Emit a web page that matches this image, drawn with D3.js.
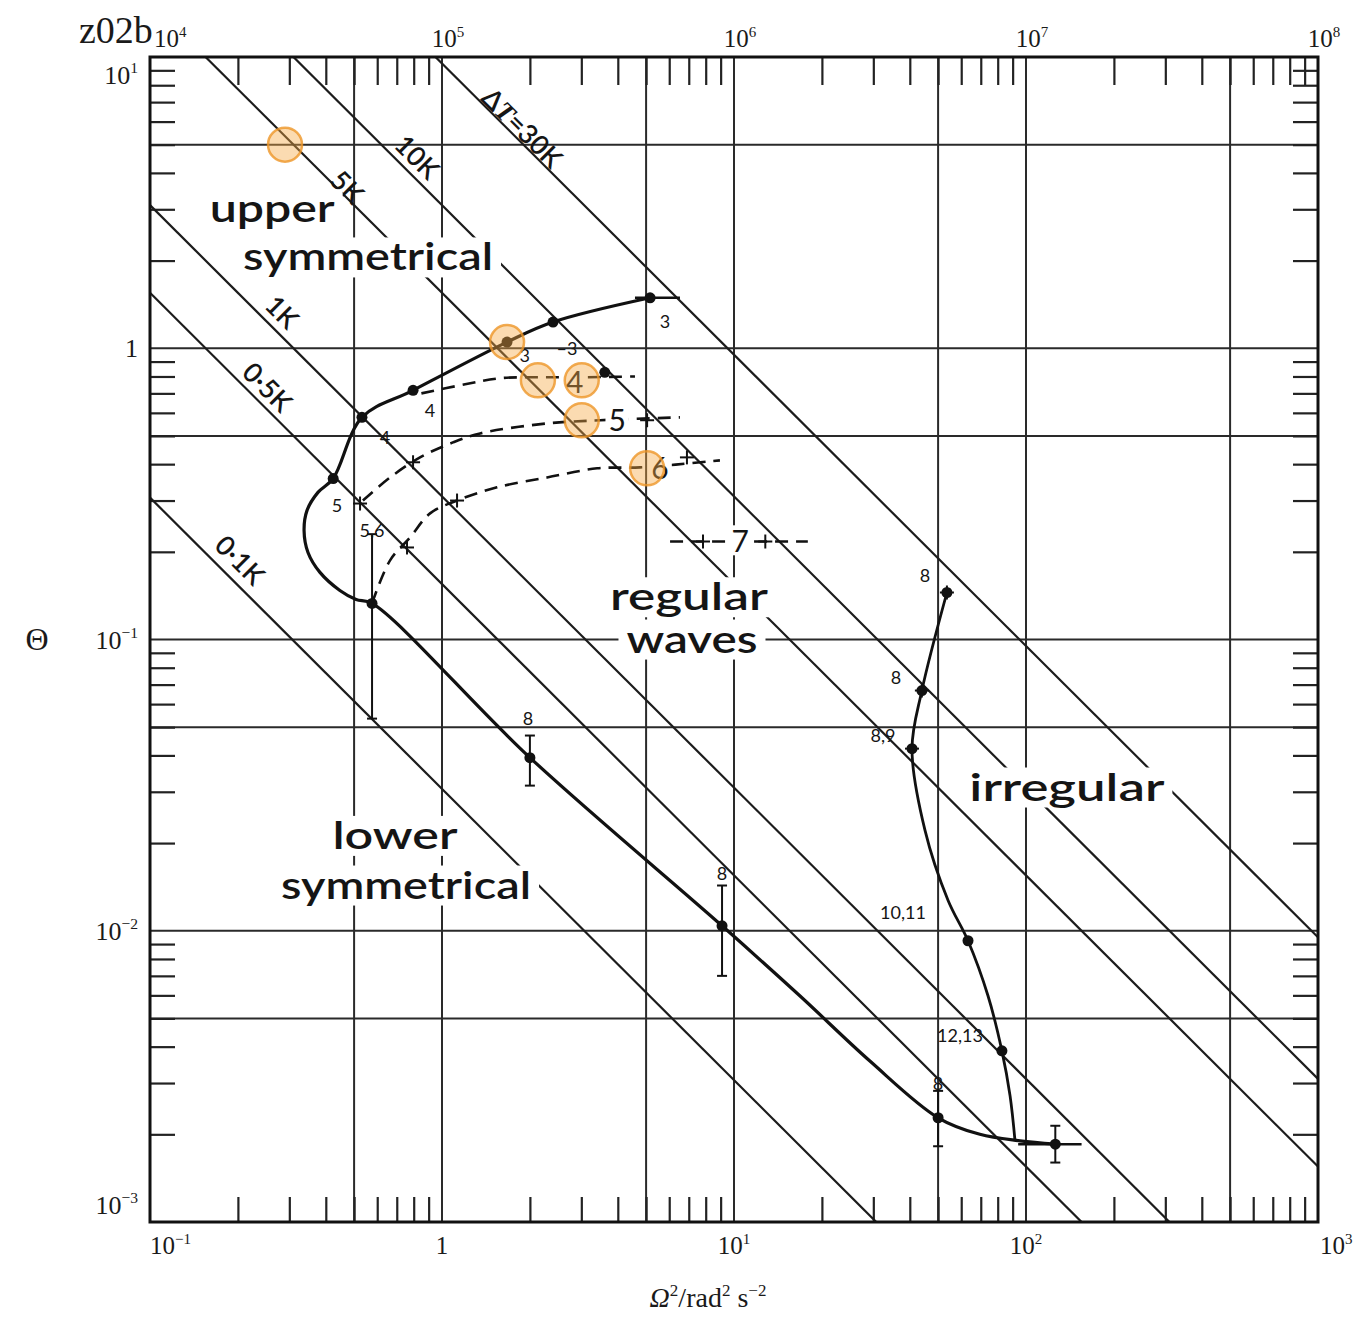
<!DOCTYPE html>
<html>
<head>
<meta charset="utf-8">
<script src="https://cdn.jsdelivr.net/npm/d3@7"></script>
<style>
  body { margin: 0; background: #fff; }
  svg { display: block; }
  .grid line { stroke: #2a2a2a; stroke-width: 2; }
  .minor line { stroke: #222; stroke-width: 2.2; }
  .minor path { display: none; }
  .serif { font-family: "Liberation Serif", "DejaVu Serif", serif; fill: #1a1a1a; }
  .sans { font-family: Lato, "Open Sans", sans-serif; fill: #151515; }
</style>
</head>
<body>
<script>
// ΔT = const lines, Θ·Ω² fixed; value is Θ where Ω² = 1
const deltaTNames = ["0·1K", "0·5K", "1K", "5K", "10K", "ΔT=30K"];
const thetaAtUnit = [0.0307, 0.155, 0.31, 1.55, 3.1, 9.5];
const deltaTLabelPos = [[0.203, 0.187], [0.252, 0.734], [0.283, 1.33], [0.473, 3.57], [0.821, 4.53], [1.88, 5.7]];

const gridTheta = [10, 5, 1, 0.5, 0.1, 0.05, 0.01, 0.005, 0.001];
const gridOmega = [0.1, 0.5, 1, 5, 10, 50, 100, 500, 1000];

const bottomTicks = [0.1, 1, 10, 100, 1000];
const bottomLabels = [["10", "−1"], ["1", ""], ["10", "1"], ["10", "2"], ["10", "3"]];
const topTicks = [1e4, 1e5, 1e6, 1e7, 1e8];
const topLabels = [["10", "4"], ["10", "5"], ["10", "6"], ["10", "7"], ["10", "8"]];
const leftTicks = [10, 1, 0.1, 0.01, 0.001];
const leftLabels = [["10", "1"], ["1", ""], ["10", "−1"], ["10", "−2"], ["10", "−3"]];

// boundary curves [Ω², Θ]
const upperLower = [[5.16, 1.49], [2.40, 1.23], [1.67, 1.05], [0.796, 0.717], [0.532, 0.579],
  [0.424, 0.357], [0.376, 0.320], [0.345, 0.2776], [0.337, 0.2368], [0.3476, 0.199], [0.382, 0.170],
  [0.447, 0.1474], [0.508, 0.1372], [0.576, 0.133], [2.0, 0.0393], [9.1, 0.0104], [16.8, 0.00598],
  [29.2, 0.00357], [50, 0.00228], [69.5, 0.0020], [95.4, 0.0019], [126, 0.00185]];
const irregularEdge = [[53.6, 0.145], [44.0, 0.0668], [40.7, 0.0422], [45.1, 0.0221], [54.1, 0.0127],
  [63.3, 0.00924], [74.1, 0.00598], [82.7, 0.00387], [88.2, 0.00271], [91.7, 0.0019]];
const dash34 = [[0.85, 0.70], [1.2, 0.752], [1.58, 0.789], [2.17, 0.795], [2.97, 0.795], [4.58, 0.80]];
const dash45 = [[0.536, 0.30], [0.664, 0.36], [0.841, 0.422], [1.09, 0.475], [1.35, 0.51],
  [2.29, 0.552], [3.48, 0.566], [6.53, 0.579]];
const dash56 = [[0.576, 0.133], [0.664, 0.187], [0.777, 0.224], [0.91, 0.271], [1.126, 0.30],
  [1.543, 0.333], [2.29, 0.36], [3.40, 0.387], [4.77, 0.39], [8.95, 0.412]];
const wave7 = [[6.04, 0.217], [17.9, 0.217]];

const dots = [[5.16, 1.49], [2.40, 1.23], [1.67, 1.05], [0.796, 0.717], [0.532, 0.579], [0.424, 0.357],
  [0.576, 0.133], [2.0, 0.0393], [9.1, 0.0104], [50, 0.00228], [126, 0.00185], [53.6, 0.145],
  [44.0, 0.0668], [40.7, 0.0422], [63.3, 0.00924], [82.7, 0.00387], [3.61, 0.827]];
const vErrors = [[2.0, 0.0315, 0.0468], [9.1, 0.0070, 0.0143], [50, 0.00182, 0.00282],
  [126, 0.0016, 0.00214], [0.576, 0.0535, 0.23]];
const hErrors = [[1.49, 4.58, 6.53], [0.00185, 94, 155]];
const crosses = [[0.524, 0.293], [0.796, 0.406], [1.126, 0.30], [0.759, 0.207], [5.04, 0.566],
  [6.9, 0.422], [7.83, 0.217], [12.8, 0.217], [53.6, 0.145], [44.0, 0.0668], [40.7, 0.0422]];
const highlights = [[0.29, 5.0], [1.67, 1.05], [2.13, 0.776], [3.01, 0.776], [3.01, 0.566], [5.04, 0.387]];

const pointLabels = [[5.8, 1.23, "3"], [2.68, 1.0, "–3"], [1.92, 0.946, "3"], [0.91, 0.612, "4"],
  [0.638, 0.494, "4"], [0.437, 0.289, "5"], [0.576, 0.237, "5,6"], [1.97, 0.0535, "8"],
  [9.1, 0.0157, "8"], [45.1, 0.166, "8"], [35.9, 0.074, "8"], [32.4, 0.0468, "8,9"],
  [37.9, 0.01153, "10,11"], [59.4, 0.00436, "12,13"], [50, 0.00298, "8"]];
const waveNumbers = [[2.85, 0.764, "4"], [3.98, 0.566, "5"], [5.58, 0.387, "6"], [10.5, 0.217, "7"]];
const regionLabels = [["upper", 0.262, 2.71], ["symmetrical", 0.558, 1.85], ["regular", 7.01, 0.126],
  ["waves", 7.18, 0.0902], ["lower", 0.69, 0.0191], ["symmetrical", 0.753, 0.0129], ["irregular", 138, 0.028]];

const width = 1355, height = 1333;
const m = { left: 150, right: 1318, top: 57, bottom: 1222 };
const regionWidth = { upper: 125, symmetrical: 250, regular: 158, waves: 131, lower: 125, irregular: 195 };

const svg = d3.select("body").append("svg").attr("width", width).attr("height", height);

const x = d3.scaleLog().domain([0.1, 1000]).range([m.left, m.right]);
const xTop = d3.scaleLog().domain([1e4, 1e8]).range([m.left, m.right]);
const y = d3.scaleLog().domain([0.001, 10]).range([m.bottom, m.top]);

svg.append("clipPath").attr("id", "plot")
  .append("rect").attr("x", m.left).attr("y", m.top)
  .attr("width", m.right - m.left).attr("height", m.bottom - m.top);

/** grid */
svg.append("g").attr("class", "grid")
  .selectAll("line").data(gridTheta).enter().append("line")
  .attr("x1", m.left).attr("x2", m.right).attr("y1", d => y(d)).attr("y2", d => y(d));
svg.append("g").attr("class", "grid")
  .selectAll("line").data(gridOmega).enter().append("line")
  .attr("y1", m.top).attr("y2", m.bottom).attr("x1", d => x(d)).attr("x2", d => x(d));

/** minor ticks, pointing inward */
const isMinor = v => Math.abs(Math.log10(v) - Math.round(Math.log10(v))) > 1e-6;
const tk = 25;
svg.append("g").attr("class", "minor").attr("transform", `translate(0,${m.bottom})`)
  .call(d3.axisTop(x).tickValues(x.ticks().filter(isMinor)).tickSize(tk).tickFormat(""));
svg.append("g").attr("class", "minor").attr("transform", `translate(0,${m.top})`)
  .call(d3.axisBottom(xTop).tickValues(xTop.ticks().filter(isMinor)).tickSize(tk + 3).tickFormat(""));
svg.append("g").attr("class", "minor").attr("transform", `translate(${m.left},0)`)
  .call(d3.axisRight(y).tickValues(y.ticks().filter(isMinor)).tickSize(tk).tickFormat(""));
svg.append("g").attr("class", "minor").attr("transform", `translate(${m.right},0)`)
  .call(d3.axisLeft(y).tickValues(y.ticks().filter(isMinor)).tickSize(tk).tickFormat(""));

/** ΔT lines */
const diag = svg.append("g").attr("clip-path", "url(#plot)");
diag.selectAll("line").data(thetaAtUnit).enter().append("line")
  .attr("x1", x(0.1)).attr("y1", c => y(c / 0.1))
  .attr("x2", x(1000)).attr("y2", c => y(c / 1000))
  .attr("stroke", "#1c1c1c").attr("stroke-width", 2.2);

deltaTNames.forEach((name, i) => {
  const [om, th] = deltaTLabelPos[i];
  const t = svg.append("text").attr("class", "sans")
    .attr("transform", `translate(${x(om)},${y(th)}) rotate(44.9)`)
    .attr("text-anchor", "middle").attr("dy", "0.35em")
    .attr("font-size", 27).attr("font-weight", 600);
  if (name.startsWith("ΔT")) {
    t.append("tspan").text("Δ");
    t.append("tspan").attr("font-style", "italic").attr("font-family", "Liberation Serif").text("T");
    t.append("tspan").text(name.slice(2));
  } else t.text(name);
});

/** region labels with white backing (lines are broken round them) */
const regionG = svg.append("g");
regionLabels.forEach(([word, om, th]) => {
  const g = regionG.append("g");
  const t = g.append("text").attr("class", "sans")
    .attr("x", x(om)).attr("y", y(th)).attr("text-anchor", "middle")
    .attr("font-size", 38).attr("font-weight", 600)
    .attr("textLength", regionWidth[word]).attr("lengthAdjust", "spacingAndGlyphs")
    .text(word);
  const b = t.node().getBBox();
  g.insert("rect", "text").attr("x", b.x - 8).attr("y", b.y + 5)
    .attr("width", b.width + 16).attr("height", b.height - 6).attr("fill", "#fff");
});

/** curves */
const line = d3.line().x(d => x(d[0])).y(d => y(d[1])).curve(d3.curveCatmullRom.alpha(0.5));
svg.append("path").datum(upperLower).attr("d", line)
  .attr("fill", "none").attr("stroke", "#111").attr("stroke-width", 3.2);
svg.append("path").datum(irregularEdge).attr("d", line)
  .attr("fill", "none").attr("stroke", "#111").attr("stroke-width", 2.8);
[dash34, dash45, dash56, wave7].forEach(d => {
  svg.append("path").datum(d).attr("d", line)
    .attr("fill", "none").attr("stroke", "#111").attr("stroke-width", 2.6)
    .attr("stroke-dasharray", "13 8");
});

/** error bars */
const eb = svg.append("g").attr("stroke", "#111").attr("stroke-width", 2);
vErrors.forEach(([om, lo, hi]) => {
  eb.append("line").attr("x1", x(om)).attr("x2", x(om)).attr("y1", y(lo)).attr("y2", y(hi));
  [lo, hi].forEach(v => eb.append("line").attr("x1", x(om) - 5).attr("x2", x(om) + 5)
    .attr("y1", y(v)).attr("y2", y(v)));
});
hErrors.forEach(([th, lo, hi]) => {
  eb.append("line").attr("y1", y(th)).attr("y2", y(th)).attr("x1", x(lo)).attr("x2", x(hi))
    .attr("stroke-width", 2.6);
});
crosses.forEach(([om, th]) => {
  eb.append("line").attr("x1", x(om) - 7).attr("x2", x(om) + 7).attr("y1", y(th)).attr("y2", y(th));
  eb.append("line").attr("x1", x(om)).attr("x2", x(om)).attr("y1", y(th) - 7).attr("y2", y(th) + 7);
});

/** data points */
svg.append("g").selectAll("circle").data(dots).enter().append("circle")
  .attr("cx", d => x(d[0])).attr("cy", d => y(d[1])).attr("r", 5.5).attr("fill", "#111");

/** point labels */
svg.append("g").selectAll("text").data(pointLabels).enter().append("text")
  .attr("class", "sans").attr("x", d => x(d[0])).attr("y", d => y(d[1]))
  .attr("text-anchor", "middle").attr("dy", "0.35em").attr("font-size", 18)
  .text(d => d[2]);

const wn = svg.append("g");
waveNumbers.forEach(([om, th, s]) => {
  const t = wn.append("text").attr("class", "sans").attr("x", x(om)).attr("y", y(th))
    .attr("text-anchor", "middle").attr("dy", "0.36em").attr("font-size", 30).text(s);
  const b = t.node().getBBox();
  wn.insert("rect", "text").attr("x", b.x - 3).attr("y", b.y + 3)
    .attr("width", b.width + 6).attr("height", b.height - 6).attr("fill", "#fff");
});

/** highlighted (orange) points */
svg.append("g").selectAll("circle").data(highlights).enter().append("circle")
  .attr("cx", d => x(d[0])).attr("cy", d => y(d[1])).attr("r", 17)
  .attr("fill", "rgba(246,170,70,0.42)").attr("stroke", "rgba(238,150,40,0.8)").attr("stroke-width", 2.5);

/** frame */
svg.append("rect").attr("x", m.left).attr("y", m.top)
  .attr("width", m.right - m.left).attr("height", m.bottom - m.top)
  .attr("fill", "none").attr("stroke", "#111").attr("stroke-width", 3);

/** tick labels */
function supText(base, exp, px, py, anchor, size) {
  const t = svg.append("text").attr("class", "serif").attr("x", px).attr("y", py)
    .attr("text-anchor", anchor).attr("font-size", size);
  t.append("tspan").text(base);
  if (exp) t.append("tspan").attr("dy", -size * 0.42).attr("font-size", size * 0.6).text(exp);
  return t;
}
bottomTicks.forEach((v, i) => {
  const last = i === bottomTicks.length - 1;
  supText(bottomLabels[i][0], bottomLabels[i][1], x(v) + (last ? 2 : 0),
    m.bottom + 32, i === 0 || last ? "start" : "middle", 25);
});
topTicks.forEach((v, i) => {
  supText(topLabels[i][0], topLabels[i][1], xTop(v) + (i === 0 ? 4 : 6),
    m.top - 10, i === 0 ? "start" : "middle", 25);
});
leftTicks.forEach((v, i) => {
  const py = Math.min(Math.max(y(v), m.top + 18), m.bottom - 17);
  supText(leftLabels[i][0], leftLabels[i][1], m.left - 12, py + 9, "end", 26);
});

/** titles */
svg.append("text").attr("class", "serif").attr("x", 79).attr("y", 43)
  .attr("font-size", 38).text("z02b");
svg.append("text").attr("class", "serif").attr("x", 37).attr("y", y(0.1) + 10)
  .attr("text-anchor", "middle").attr("font-size", 32).text("Θ");
const xt = svg.append("text").attr("class", "serif").attr("x", 708).attr("y", 1307)
  .attr("text-anchor", "middle").attr("font-size", 28);
xt.append("tspan").attr("font-style", "italic").text("Ω");
xt.append("tspan").attr("dy", -11).attr("font-size", 17).text("2");
xt.append("tspan").attr("dy", 11).text("/rad");
xt.append("tspan").attr("dy", -11).attr("font-size", 17).text("2");
xt.append("tspan").attr("dy", 11).text(" s");
xt.append("tspan").attr("dy", -11).attr("font-size", 17).text("−2");
</script>
</body>
</html>
